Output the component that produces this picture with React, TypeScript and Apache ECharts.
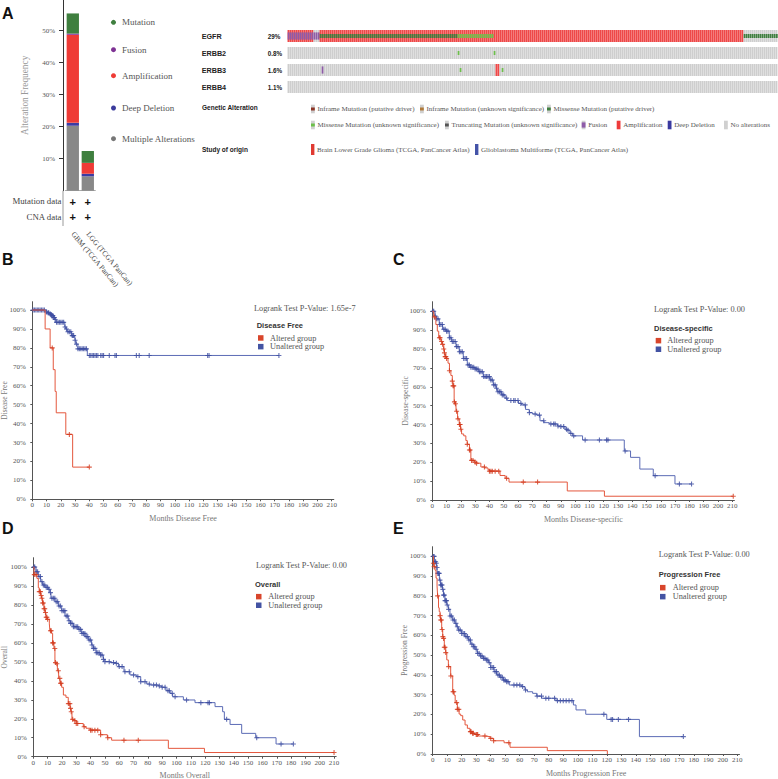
import React, { useEffect, useRef } from 'react';
import * as echarts from 'echarts';

const SERIF = '"Liberation Serif","Times New Roman",serif';
const SANS = '"Liberation Sans",Arial,sans-serif';

// ---------- Panel A: alteration frequency ----------
const studies = ['GBM (TCGA PanCan)', 'LGG (TCGA PanCan)'];
const multipleAlt = [20.3, 4.5];
const deepDeletion = [0.9, 0.8];
const amplification = [27.5, 3.4];
const fusion = [0.4, 0];
const mutation = [6.3, 3.7];
const barTicks = [10, 20, 30, 40, 50];
const barLegend = ['Mutation', 'Fusion', 'Amplification', 'Deep Deletion', 'Multiple Alterations'];
const profileRows = ['Mutation data', 'CNA data'];

// ---------- Panel A: oncoprint ----------
const genes = ['EGFR', 'ERBB2', 'ERBB3', 'ERBB4'];
const genePct = ['29%', '0.8%', '1.6%', '1.1%'];
const SAMPLE_COLS = 245;
// [gene, startCol, endCol, cna(0 none,1 amp,2 deep del), mut(0 none,1 missense driver,2 missense vus,3 fusion)]
const oncoSegments = [
  [0, 0, 13, 1, 3],
  [0, 13, 16, 0, 3],
  [0, 16, 85, 1, 1],
  [0, 85, 103, 1, 2],
  [0, 103, 228, 1, 0],
  [0, 228, 245, 0, 1],
  [1, 85, 86, 0, 2],
  [1, 103, 104, 0, 2],
  [2, 17, 18, 0, 3],
  [2, 86, 87, 0, 2],
  [2, 104, 106, 1, 0],
  [2, 107, 108, 0, 2],
];
const alterationLegend = [
  'Inframe Mutation (putative driver)',
  'Inframe Mutation (unknown significance)',
  'Missense Mutation (putative driver)',
  'Missense Mutation (unknown significance)',
  'Truncating Mutation (unknown significance)',
  'Fusion',
  'Amplification',
  'Deep Deletion',
  'No alterations',
];
const studyLegend = ['Brain Lower Grade Glioma (TCGA, PanCancer Atlas)', 'Glioblastoma Multiforme (TCGA, PanCancer Atlas)'];

// ---------- KM panels ----------
const monthTicks = [0, 10, 20, 30, 40, 50, 60, 70, 80, 90, 100, 110, 120, 130, 140, 150, 160, 170, 180, 190, 200, 210];
const survTicks = [0, 10, 20, 30, 40, 50, 60, 70, 80, 90, 100];
const groupNames = ['Altered group', 'Unaltered group'];

const bAltered = [[0, 100], [9, 90], [12.5, 80], [14.7, 68.5], [16, 57], [16.8, 45.7], [23.5, 34.3], [28.3, 17], [40, 17]];
const bAlteredCens = [14, 26, 40];
const bUnaltered = [[0, 100], [9.5, 99], [11, 98.5], [12, 98], [13, 97.5], [14, 97], [15, 96], [16, 95], [16.5, 93.5], [22.8, 91], [23.5, 90], [24.5, 88.5], [27.5, 86.5], [29.5, 85.5], [30, 84], [30.5, 82], [32, 79.5], [38.6, 76], [173, 76]];
const bUnalteredCens = [0.5, 1.5, 2.5, 3.5, 4.5, 5.5, 6.5, 7.5, 8.5, 10, 11, 11.5, 12.5, 13, 13.5, 14, 14.5, 15, 15.5, 16, 17, 18, 19, 20, 21, 22, 23, 24, 25, 26, 27, 28, 28.5, 29, 30, 31, 32, 33, 34, 35, 36, 37, 38, 40, 41, 42, 43, 44, 45, 46, 48, 49, 50, 54, 58, 59, 73, 75, 82, 123, 124, 173];

const cAltered = [[0, 100], [1, 97], [2.5, 93], [3.5, 89.5], [4.5, 86], [6, 84], [7, 82.5], [8, 80], [8.5, 78], [9, 76], [10, 75], [11, 72.5], [12, 68.5], [13, 66], [14, 63], [14.5, 60.5], [15.3, 52], [16, 51], [16.6, 47], [17.7, 43], [18.9, 40], [19.8, 37.5], [20.5, 35], [22, 34], [23.5, 31.5], [24.5, 29.5], [26, 26.5], [27, 21], [29.5, 20], [31, 19.5], [34, 17.5], [37, 17], [39, 16], [40, 15.3], [47.4, 13], [51, 11.5], [53.7, 9.5], [94.5, 4.8], [120.5, 2], [210.7, 2]];
const cAlteredCens = [1.4, 5, 5.5, 6.5, 7.2, 8, 8.5, 9, 9.5, 10, 12, 14, 14.5, 15, 15.5, 16.2, 17, 18, 19, 19.5, 20, 24.5, 26, 26.5, 27.5, 28.5, 30, 31, 36.5, 40, 41, 42, 44, 46.5, 52, 63.7, 73.7, 210.7];
const cUnaltered = [[0, 100], [1.9, 97.5], [3, 96], [4.9, 93], [7.2, 90.5], [9.6, 89.5], [11.9, 86], [13.5, 84], [16.6, 81.3], [18.9, 78.6], [21.7, 75], [24.5, 71.6], [26.4, 70.3], [29.9, 69.4], [32.2, 68], [35.7, 65.4], [40.4, 63.6], [42.7, 61], [44.6, 59.2], [45.5, 57.4], [48.5, 55.7], [50.9, 54], [52.5, 52.7], [60.3, 51.2], [62.5, 50.4], [65.3, 48], [67.9, 46.3], [70.2, 45.6], [73, 45], [75.4, 42], [78.2, 41], [81.9, 40.3], [87.7, 39.2], [89.8, 38.9], [92.9, 37.5], [94.5, 37], [96.4, 35.3], [98.2, 34], [105.2, 31.8], [134.4, 26], [138.8, 22.6], [145.3, 16.4], [154.7, 12.9], [169.9, 8.5], [181.5, 8.5]];
const cUnalteredCens = [0.5, 1, 2, 3, 4, 5, 6, 7, 8, 9, 10, 11, 12, 13, 14, 15, 16, 17, 18, 19, 20, 21, 22, 23, 24, 25, 26, 27, 28, 29, 30, 31, 32, 33, 34, 35, 36, 37, 38, 39, 40, 41, 42, 43, 44, 45, 46, 47, 48, 49, 50, 52, 55, 57, 58, 60, 62, 65, 68, 72, 75, 78, 83, 85, 86, 88, 90, 92, 94, 95, 97, 99, 107, 117, 122, 123, 135, 156, 173, 181.5];

const dAltered = [[0, 100], [0.5, 96], [2.5, 94], [3.5, 89], [4.2, 87], [5.1, 85], [5.8, 83.5], [6.5, 81], [7.5, 78], [8.1, 76], [8.8, 73.5], [9.8, 72.4], [11.2, 70], [11.6, 66.4], [12.8, 65], [13.5, 60], [14.4, 57], [15.1, 49.6], [15.8, 49], [16.8, 45.3], [17.7, 41.3], [18.6, 38.7], [19.8, 36.6], [21, 32.5], [22.8, 31.3], [24.4, 28], [25.6, 25.5], [26.3, 23.7], [27, 19.7], [28.4, 19], [30, 17.5], [34.9, 15.8], [36.8, 15], [39.6, 14], [47, 11.6], [51.7, 10], [54.7, 8.7], [94.3, 4.4], [119.5, 2.2], [210, 2.2]];
const dAlteredCens = [0.7, 1.9, 4.2, 5, 5.5, 6, 6.5, 7, 7.5, 8, 8.5, 9, 9.5, 10, 12, 12.5, 13.5, 14, 15, 15.5, 16.5, 17.5, 18.5, 19, 19.5, 24.5, 25.5, 26, 26.5, 27.5, 29, 30, 31, 35.5, 40, 41, 43, 45, 47, 52, 63.3, 73.3, 210];
const dUnaltered = [[0, 100], [1.9, 97.5], [3.5, 95], [5.1, 92.3], [6.5, 90.5], [8.1, 89.3], [10.5, 88.2], [11.6, 86.5], [12.3, 83.5], [15.1, 81.7], [17.5, 79.4], [19.8, 77], [22.1, 74.2], [24.4, 71.7], [26, 70.3], [27.9, 68.5], [31.4, 67.1], [33.8, 65], [36.1, 63.3], [38.4, 61.5], [40.7, 58.9], [41.9, 57.1], [43.8, 54.8], [46.6, 53.6], [48.9, 51.3], [50, 50.1], [53.5, 49.6], [57.7, 49.2], [59.4, 47.5], [63.3, 44.8], [67.5, 43.1], [72.2, 42.2], [75, 39.5], [79.2, 38.3], [81.5, 37.8], [87.3, 37.3], [89.6, 36.6], [92.7, 34.8], [95.5, 33.4], [97.3, 31.6], [104.8, 29.9], [112.9, 28.5], [126.9, 26.4], [132.2, 23.7], [133.4, 19.7], [137.4, 17], [145.5, 12.3], [155.3, 10], [169.5, 6.7], [181.6, 6.7]];
const dUnalteredCens = [0.5, 1, 2, 3, 4, 5, 6, 7, 8, 9, 10, 11, 12, 13, 14, 15, 16, 17, 18, 19, 20, 21, 22, 23, 24, 25, 26, 27, 28, 29, 30, 31, 32, 33, 34, 35, 36, 37, 38, 39, 40, 41, 42, 43, 44, 45, 46, 47, 48, 49, 50, 53, 56, 58, 60, 62, 64, 67, 70, 73, 75, 78, 81, 84, 86, 88, 90, 92, 94, 95, 97, 99, 107, 117, 122, 123, 135, 156, 173, 181.6];

const eAltered = [[0, 100], [0.5, 96.5], [1, 94.8], [1.6, 93], [2.3, 89], [3, 85], [3.4, 80], [4, 74], [4.5, 72], [5.1, 70], [5.5, 67.8], [6.2, 63], [6.9, 59.4], [7.4, 58.5], [8, 54], [9, 51.3], [9.7, 47.6], [10.8, 44.2], [12.4, 39.5], [13.8, 31.5], [14.7, 29.8], [15.5, 26], [17, 22.6], [18.2, 20.2], [19.3, 19.4], [20.7, 17.2], [22.3, 14.7], [23.9, 13], [25.7, 11.3], [26.9, 10.5], [29.2, 9.9], [31.5, 9.1], [36.1, 8.8], [39.5, 7.9], [41.8, 6.7], [49.2, 5.7], [53.3, 3.4], [79, 1.7], [120.4, 0]];
const eAlteredCens = [0.5, 1, 3.4, 5.1, 5.5, 6, 6.5, 7, 7.5, 8, 8.5, 9, 11, 12.5, 14, 14.5, 16.5, 17, 18, 26, 26.5, 27.5, 28, 30, 30.5, 31, 36, 40, 42, 52.5];
const eUnaltered = [[0, 100], [1.1, 97.3], [2.3, 96.5], [2.8, 94.4], [3.2, 91.4], [4.6, 88], [5.5, 85.5], [6.7, 83.3], [7.4, 80.4], [8.5, 77.6], [9.7, 75.4], [10.8, 73.2], [11.9, 69.8], [13.8, 67.8], [15.4, 66.1], [16.5, 64.4], [17.7, 62.7], [20, 61], [22.3, 59.4], [24.6, 57.7], [26.2, 55.6], [28, 54.3], [29.2, 53], [30.8, 50.9], [32.6, 49.6], [34.9, 48.4], [36.8, 47.6], [38.4, 46.2], [40, 43.8], [42.3, 41.7], [44.1, 40], [46.4, 38.8], [48.7, 37.4], [51, 36.6], [52.8, 34.9], [61.3, 34.1], [63.6, 32.4], [65.3, 31.5], [68.9, 30.7], [71.7, 29.3], [75.1, 28.2], [85, 27], [97, 24.8], [98.8, 22.3], [105.5, 20.1], [120, 17.5], [142.5, 8.8], [172.8, 8.8]];
const eUnalteredCens = [0.5, 1, 1.5, 2, 2.5, 3, 3.5, 4, 4.5, 5, 5.5, 6, 6.5, 7, 7.5, 8, 8.5, 9, 9.5, 10, 11, 12, 13, 14, 15, 16, 17, 18, 19, 20, 21, 22, 23, 24, 25, 26, 27, 28, 29, 30, 31, 32, 33, 34, 35, 36, 37, 38, 39, 40, 41, 42, 43, 44, 45, 46, 47, 48, 49, 50, 51, 52, 56, 58, 60, 62, 64, 72, 75, 78, 80, 84, 86, 88, 90, 92, 94, 96, 118, 123, 124, 128, 135, 172.8];

const kmTitles = ['Disease Free', 'Disease-specific', 'Overall', 'Progression Free'];
const kmXNames = ['Months Disease Free', 'Months Disease-specific', 'Months Overall', 'Months Progression Free'];
const kmPValues = ['1.65e-7', '0.00', '0.00', '0.00'];
const kmCurves = [
  [bAltered, bAlteredCens, bUnaltered, bUnalteredCens],
  [cAltered, cAlteredCens, cUnaltered, cUnalteredCens],
  [dAltered, dAlteredCens, dUnaltered, dUnalteredCens],
  [eAltered, eAlteredCens, eUnaltered, eUnalteredCens],
];

// ---------- layout (positions / styles only) ----------
const kmLayout = [
  { left: 32.3, top: 301.7, width: 301.5, height: 197.6, ymax: 104.4, xGap: 15.4, yGap: 23.8, lx: 254, ly: 308.3, tx: 256.7, ty: 325.3, sx: 258, ix: 270, i1: 338, i2: 346.7 },
  { left: 432.3, top: 301.7, width: 302.1, height: 198.3, ymax: 105.1, xGap: 15.3, yGap: 23.3, lx: 654, ly: 309.3, tx: 654, ty: 328, sx: 655.7, ix: 667.3, i1: 340.7, i2: 349.3 },
  { left: 33.3, top: 557.7, width: 302.9, height: 199, ymax: 104.9, xGap: 14.6, yGap: 24.5, lx: 256, ly: 565, tx: 255, ty: 584, sx: 256, ix: 268.3, i1: 596.7, i2: 605.3 },
  { left: 432.7, top: 546.7, width: 306.8, height: 207.3, ymax: 104.9, xGap: 15.6, yGap: 24.4, lx: 658.7, ly: 554.3, tx: 658.7, ty: 574.3, sx: 660, ix: 672.7, i1: 587.7, i2: 596.7 },
];
const panelLetters = [['A', 2, 13], ['B', 2, 259], ['C', 393, 259], ['D', 2, 528], ['E', 393, 528]];
const barColors = ['#888888', '#3b3ba3', '#ef3b36', '#8e3b9e', '#3f7f3f'];
const barLegendColors = ['#3f7f3f', '#7e3294', '#ef3b36', '#3b3b9c', '#777777'];
const barLegendY = [22.3, 49.7, 75.7, 108, 138.7];
const mutColors = ['', '#3f7f3f', '#6cc04a', '#8e5ba8'];
const altLegendPos = [[311, 0], [420, 0], [547, 0], [311, 1], [445, 1], [581.7, 1], [616.7, 1], [667.7, 1], [724, 1]];
const altLegendIcon = [['band', '#8c3526'], ['band', '#b07a3a'], ['band', '#3f7f3f'], ['band', '#6cc04a'], ['band', '#555555'], ['fus', '#8e5ba8'], ['full', '#ee3b3b'], ['full', '#3a3aa0'], ['full', '#d0d0d0']];
const studyLegendPos = [[311, '#e03a32'], [475, '#4453a8']];
const RED_LINE = '#e4573d', RED_MARK = '#d2381c', BLUE_LINE = '#5b6bb5', BLUE_MARK = '#3c4ca0';
const CROSS = 'path://M-0.22,-1H0.22V-0.22H1V0.22H0.22V1H-0.22V0.22H-1V-0.22H-0.22Z';

function survAt(curve: number[][], t: number) {
  let s = curve[0][1];
  for (const p of curve) { if (p[0] <= t) s = p[1]; }
  return s;
}

function txt(x: number, y: number, text: string, font: string, fill = '#333', align = 'left', rotation = 0) {
  return { type: 'text', x, y, rotation, silent: true, z: 100, style: { text, font, fill, align, verticalAlign: 'middle' } };
}

function buildOption() {
  const grids: any[] = [];
  const xAxes: any[] = [];
  const yAxes: any[] = [];
  const series: any[] = [];
  const graphic: any[] = [];

  // --- bar chart grid 0
  grids.push({ left: 65.3, top: 0, width: 30, height: 190.7, containLabel: false, outerBoundsMode: 'none' });
  xAxes.push({
    type: 'category', gridIndex: 0, data: studies,
    axisLine: { show: true, lineStyle: { color: '#aaaaaa', width: 1 } }, axisTick: { show: false },
    axisLabel: { rotate: -50, margin: 42, interval: 0, fontFamily: SERIF, fontSize: 7.5, color: '#444' },
  });
  yAxes.push({
    type: 'value', gridIndex: 0, min: 0, max: 59.6, offset: 2.3,
    name: 'Alteration Frequency', nameLocation: 'middle', nameGap: 33.4, nameMoveOverlap: false,
    nameTextStyle: { fontFamily: SERIF, fontSize: 9.3, color: '#999' },
    axisLine: { show: true, lineStyle: { color: '#333', width: 1 } },
    axisTick: { show: true, length: 4, customValues: barTicks, lineStyle: { color: '#333' } },
    axisLabel: { customValues: barTicks, formatter: (v: number) => v + '%', margin: 8, fontFamily: SERIF, fontSize: 7, color: '#555' },
    splitLine: { show: false },
  });
  const barSets = [multipleAlt, deepDeletion, amplification, fusion, mutation];
  const barNames = ['Multiple Alterations', 'Deep Deletion', 'Amplification', 'Fusion', 'Mutation'];
  barSets.forEach((d, i) => series.push({
    type: 'bar', name: barNames[i], stack: 'freq', xAxisIndex: 0, yAxisIndex: 0, barWidth: 12.3,
    data: d, itemStyle: { color: barColors[i] }, silent: true,
  }));

  // --- oncoprint grid 1
  grids.push({ left: 287.7, top: 27.5, width: 490, height: 68, containLabel: false, outerBoundsMode: 'none' });
  xAxes.push({ type: 'value', gridIndex: 1, min: 0, max: SAMPLE_COLS, show: false });
  yAxes.push({
    type: 'category', gridIndex: 1, data: genes, inverse: true,
    axisLine: { show: false }, axisTick: { show: false }, splitLine: { show: false },
    axisLabel: { align: 'left', margin: 86, fontFamily: SANS, fontWeight: 'bold', fontSize: 7.2, color: '#222' },
  });
  yAxes.push({
    type: 'category', gridIndex: 1, data: genePct, inverse: true, position: 'left',
    axisLine: { show: false }, axisTick: { show: false }, splitLine: { show: false },
    axisLabel: { align: 'left', margin: 20, fontFamily: SANS, fontWeight: 'bold', fontSize: 6.3, color: '#222' },
  });
  const cells: number[][] = [];
  genes.forEach((_, g) => {
    for (let c = 0; c < SAMPLE_COLS; c++) {
      let cna = 0, mut = 0;
      for (const s of oncoSegments) { if (s[0] === g && c >= s[1] && c < s[2]) { cna = s[3]; mut = s[4]; } }
      cells.push([c, g, cna, mut]);
    }
  });
  series.push({
    type: 'custom', xAxisIndex: 1, yAxisIndex: 1, silent: true, data: cells,
    renderItem: (params: any, api: any) => {
      const col = api.value(0), g = api.value(1), cna = api.value(2), mut = api.value(3);
      const p = api.coord([col, g]);
      const cw = api.size([1, 0])[0];
      const h = 12;
      const top = p[1] - h / 2;
      const base = cna === 1 ? ['#f47e7e', '#ec3a3a'] : cna === 2 ? ['#7d7dc4', '#3a3aa0'] : ['#e2e2e2', '#cacaca'];
      const children: any[] = [
        { type: 'rect', shape: { x: p[0], y: top, width: cw, height: h }, style: { fill: base[0] } },
        { type: 'rect', shape: { x: p[0], y: top, width: cw * 0.55, height: h }, style: { fill: base[1] } },
      ];
      if (mut) {
        const bh = mut === 3 ? h * 0.6 : h / 3;
        children.push({ type: 'rect', shape: { x: p[0], y: p[1] - bh / 2, width: cw, height: bh }, style: { fill: mutColors[mut] } });
      }
      return { type: 'group', children };
    },
  });

  // --- KM grids
  kmLayout.forEach((L, i) => {
    const gi = i + 2;
    grids.push({ left: L.left, top: L.top, width: L.width, height: L.height, containLabel: false, outerBoundsMode: 'none' });
    xAxes.push({
      type: 'value', gridIndex: gi, min: 0, max: 211.5,
      name: kmXNames[i], nameLocation: 'middle', nameGap: L.xGap, nameMoveOverlap: false,
      nameTextStyle: { fontFamily: SERIF, fontSize: 8, color: '#777' },
      axisLine: { show: true, lineStyle: { color: '#555', width: 1 } },
      axisTick: { show: true, length: 2, customValues: monthTicks, lineStyle: { color: '#555' } },
      axisLabel: { customValues: monthTicks, margin: 2.5, fontFamily: SERIF, fontSize: 7, color: '#555' },
      splitLine: { show: false },
    });
    yAxes.push({
      type: 'value', gridIndex: gi, min: 0, max: L.ymax,
      name: kmTitles[i], nameLocation: 'middle', nameGap: L.yGap, nameMoveOverlap: false,
      nameTextStyle: { fontFamily: SERIF, fontSize: 7.5, color: '#777' },
      axisLine: { show: true, lineStyle: { color: '#555', width: 1 } },
      axisTick: { show: true, length: 2, customValues: survTicks, lineStyle: { color: '#555' } },
      axisLabel: { customValues: survTicks, formatter: (v: number) => v + '%', margin: 6.5, fontFamily: SERIF, fontSize: 7, color: '#555' },
      splitLine: { show: false },
    });
    const [alt, altC, un, unC] = kmCurves[i];
    const xi = i + 2, yi = i + 3;
    series.push({ type: 'line', name: groupNames[1], xAxisIndex: xi, yAxisIndex: yi, data: un, step: 'end', symbol: 'none', silent: true, lineStyle: { color: BLUE_LINE, width: 1 }, z: 2 });
    series.push({ type: 'scatter', name: groupNames[1] + ' censored', xAxisIndex: xi, yAxisIndex: yi, data: (unC as number[]).map((t) => [t, survAt(un as number[][], t)]), symbol: CROSS, symbolSize: 5, silent: true, itemStyle: { color: BLUE_MARK }, z: 3 });
    series.push({ type: 'line', name: groupNames[0], xAxisIndex: xi, yAxisIndex: yi, data: alt, step: 'end', symbol: 'none', silent: true, lineStyle: { color: RED_LINE, width: 1 }, z: 4 });
    series.push({ type: 'scatter', name: groupNames[0] + ' censored', xAxisIndex: xi, yAxisIndex: yi, data: (altC as number[]).map((t) => [t, survAt(alt as number[][], t)]), symbol: CROSS, symbolSize: 5, silent: true, itemStyle: { color: RED_MARK }, z: 5 });

    graphic.push(txt(L.lx, L.ly, 'Logrank Test P-Value: ' + kmPValues[i], `8.3px ${SERIF}`, '#555'));
    graphic.push(txt(L.tx, L.ty, kmTitles[i], `bold 7.5px ${SANS}`, '#333'));
    graphic.push({ type: 'rect', silent: true, z: 100, shape: { x: L.sx, y: L.i1 - 2.8, width: 5.5, height: 5.5 }, style: { fill: '#d8452b' } });
    graphic.push({ type: 'rect', silent: true, z: 100, shape: { x: L.sx, y: L.i2 - 2.8, width: 5.5, height: 5.5 }, style: { fill: '#4353a3' } });
    graphic.push(txt(L.ix, L.i1, groupNames[0], `8.3px ${SERIF}`, '#555'));
    graphic.push(txt(L.ix, L.i2, groupNames[1], `8.3px ${SERIF}`, '#555'));
  });

  // --- panel letters
  panelLetters.forEach(([t, x, y]) => graphic.push(txt(x as number, y as number, t as string, `bold 16px ${SANS}`, '#111')));

  // --- bar legend
  barLegend.forEach((t, i) => {
    graphic.push({ type: 'circle', silent: true, z: 100, shape: { cx: 113.5, cy: barLegendY[i], r: 2.5 }, style: { fill: barLegendColors[i] } });
    graphic.push(txt(122, barLegendY[i], t, `9px ${SERIF}`, '#555'));
  });
  // profile rows
  graphic.push({ type: 'line', silent: true, z: 100, shape: { x1: 63, y1: 190.7, x2: 63, y2: 226 }, style: { stroke: '#999', lineWidth: 1 } });
  profileRows.forEach((t, r) => {
    const y = 201 + r * 15.5;
    graphic.push(txt(61.5, y, t, `8.8px ${SERIF}`, '#444', 'right'));
    [72.8, 87.8].forEach((x) => graphic.push(txt(x, y + 0.5, '+', `bold 11px ${SANS}`, '#111', 'center')));
  });

  // --- oncoprint legends
  graphic.push(txt(202, 107.5, 'Genetic Alteration', `bold 6.5px ${SANS}`, '#222'));
  graphic.push(txt(202, 149, 'Study of origin', `bold 6.5px ${SANS}`, '#222'));
  const rowY = [109, 125];
  alterationLegend.forEach((t, i) => {
    const [x, r] = altLegendPos[i];
    graphic.push(txt((x as number) + 6.5, rowY[r as number], t, `7px ${SERIF}`, '#555'));
  });
  alterationLegend.forEach((_, i) => {
    const [x, r] = altLegendPos[i];
    const [kind, color] = altLegendIcon[i];
    const cy = rowY[r as number];
    const x0 = x as number;
    if (kind === 'full') {
      graphic.push({ type: 'rect', silent: true, z: 101, shape: { x: x0, y: cy - 4.3, width: 3.8, height: 8.6 }, style: { fill: color } });
    } else {
      graphic.push({ type: 'rect', silent: true, z: 101, shape: { x: x0, y: cy - 4.3, width: 3.8, height: 8.6 }, style: { fill: '#d0d0d0' } });
      const bh = kind === 'fus' ? 5.2 : 3;
      graphic.push({ type: 'rect', silent: true, z: 102, shape: { x: x0, y: cy - bh / 2, width: 3.8, height: bh }, style: { fill: color } });
    }
  });
  studyLegend.forEach((t, i) => {
    const [x, color] = studyLegendPos[i];
    graphic.push({ type: 'rect', silent: true, z: 101, shape: { x: x as number, y: 144, width: 3.4, height: 11 }, style: { fill: color } });
    graphic.push(txt((x as number) + 6, 150, t, `7px ${SERIF}`, '#555'));
  });

  return {
    animation: false,
    backgroundColor: '#ffffff',
    grid: grids,
    xAxis: xAxes,
    yAxis: yAxes,
    series,
    graphic,
  };
}

export default function App() {
  const ref = useRef<HTMLDivElement>(null);
  useEffect(() => {
    const chart = echarts.init(ref.current!, null, { renderer: 'svg' });
    chart.setOption(buildOption() as any);
    return () => chart.dispose();
  }, []);
  return <div ref={ref} style={{ position: 'absolute', left: 0, top: 0, width: 778, height: 779, background: '#fff' }} />;
}
